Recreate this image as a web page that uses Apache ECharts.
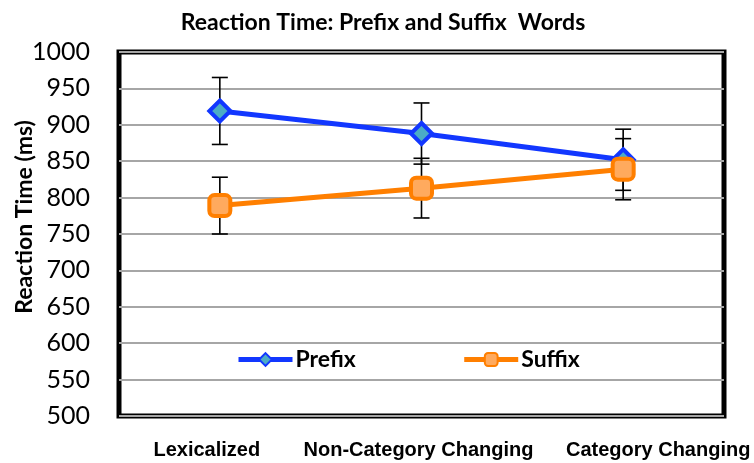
<!DOCTYPE html>
<html>
<head>
<meta charset="utf-8">
<script src="https://cdn.jsdelivr.net/npm/echarts@6/dist/echarts.min.js"></script>
<style>
  html, body { margin: 0; padding: 0; background: #fff; }
  #chart { width: 754px; height: 463px; }
</style>
</head>
<body>
<div id="chart"></div>
<script>
var categories = ['Lexicalized', 'Non-Category Changing', 'Category Changing']
var prefixMean = [919, 888, 852]
var prefixErr = [46, 42, 42]
var suffixMean = [789, 813, 839]
var suffixErr = [39, 41, 42]
var yTicks = { min: 500, max: 1000, step: 50 }

function errData (mean, err) {
  return mean.map(function (m, i) { return [i, m - err[i], m + err[i]] })
}

function errRender (params, api) {
  var x = api.value(0)
  var top = api.coord([x, api.value(2)])
  var bot = api.coord([x, api.value(1)])
  var w = 8
  var st = { stroke: '#000', lineWidth: 1.6 }
  return {
    type: 'group',
    children: [
      { type: 'line', shape: { x1: top[0], y1: top[1], x2: bot[0], y2: bot[1] }, style: st },
      { type: 'line', shape: { x1: top[0] - w, y1: top[1], x2: top[0] + w, y2: top[1] }, style: st },
      { type: 'line', shape: { x1: bot[0] - w, y1: bot[1], x2: bot[0] + w, y2: bot[1] }, style: st }
    ]
  }
}

// excel did not center the category labels, nudge them like the original
var labelKeys = ['a', 'b', 'c']
var xLabelStyle = { fontFamily: 'Liberation Sans', fontWeight: 'bold', fontSize: 20, color: '#000' }

var chart = echarts.init(document.getElementById('chart'))
var option = {
  backgroundColor: '#fff',
  animation: false,
  title: {
    text: 'Reaction Time: Prefix and Suffix  Words',
    left: 378,
    textAlign: 'center',
    top: 6,
    textStyle: { fontFamily: 'Lato', fontWeight: 'bold', fontSize: 23, color: '#000' }
  },
  legend: {
    left: 236,
    top: 348,
    padding: 0,
    itemWidth: 54,
    itemHeight: 16,
    itemGap: 106,
    lineStyle: { width: 5 },
    data: ['Prefix', 'Suffix'],
    textStyle: { fontFamily: 'Lato', fontWeight: 'bold', fontSize: 23, color: '#000', padding: [0, 0, 0, -2] }
  },
  grid: {
    left: 119,
    right: 30,
    top: 52,
    bottom: 47,
    show: true,
    borderColor: '#000',
    borderWidth: 5,
    outerBoundsMode: 'none'
  },
  xAxis: {
    type: 'category',
    data: categories,
    boundaryGap: true,
    axisLine: { show: false },
    axisTick: { show: false },
    axisLabel: {
      margin: 24,
      interval: 0,
      formatter: function (v, i) { return '{' + labelKeys[i] + '|' + v + '}' },
      rich: {
        a: Object.assign({ padding: [0, 26, 0, 0] }, xLabelStyle),
        b: Object.assign({ padding: [0, 6, 0, 0] }, xLabelStyle),
        c: Object.assign({ padding: [0, 0, 0, 70] }, xLabelStyle)
      }
    }
  },
  yAxis: {
    type: 'value',
    min: yTicks.min,
    max: yTicks.max,
    interval: yTicks.step,
    name: 'Reaction Time (ms)',
    nameLocation: 'middle',
    nameGap: 83,
    nameMoveOverlap: false,
    nameTextStyle: { fontFamily: 'Lato', fontWeight: 'bold', fontSize: 23, color: '#000', padding: [0, 0, 0, 34] },
    axisLine: { show: false },
    axisTick: { show: false },
    axisLabel: {
      margin: 29,
      fontFamily: 'Lato',
      fontSize: 25,
      color: '#000',
      formatter: function (v) { return String(v) }
    },
    splitLine: { lineStyle: { color: '#A6A6A6', width: 2 } }
  },
  series: [
    {
      name: 'PrefixErr',
      type: 'custom',
      renderItem: errRender,
      data: errData(prefixMean, prefixErr),
      z: 1
    },
    {
      name: 'SuffixErr',
      type: 'custom',
      renderItem: errRender,
      data: errData(suffixMean, suffixErr),
      z: 1
    },
    {
      name: 'Prefix',
      type: 'line',
      data: prefixMean,
      z: 3,
      symbol: 'diamond',
      symbolSize: 21,
      lineStyle: { color: '#1237FF', width: 5 },
      itemStyle: { color: '#4BACC6', borderColor: '#1237FF', borderWidth: 4 }
    },
    {
      name: 'Suffix',
      type: 'line',
      data: suffixMean,
      z: 4,
      symbol: 'roundRect',
      symbolSize: 21,
      lineStyle: { color: '#FF7F00', width: 5 },
      itemStyle: { color: '#FFAA5E', borderColor: '#FF7F00', borderWidth: 4 }
    }
  ]
}
chart.setOption(option)
</script>
</body>
</html>
